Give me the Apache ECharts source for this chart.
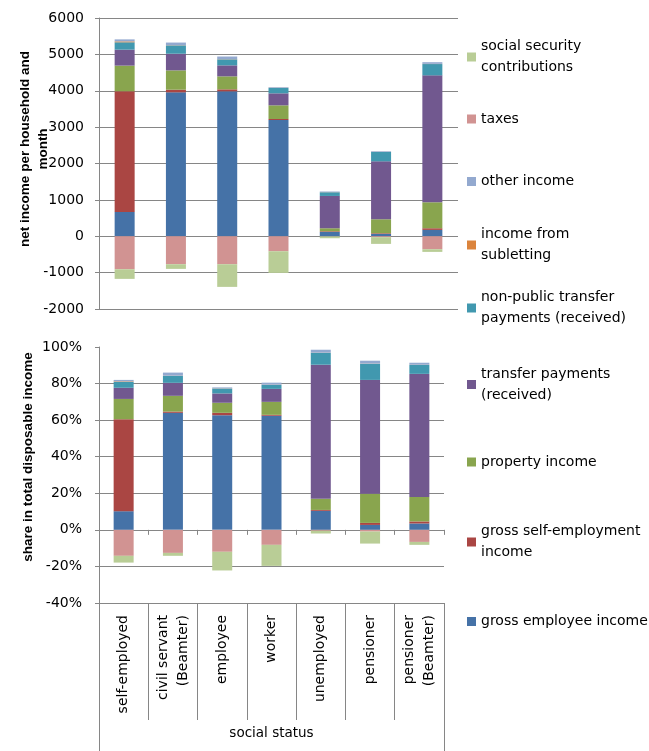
<!DOCTYPE html>
<html>
<head>
<meta charset="utf-8">
<script src="https://cdn.jsdelivr.net/npm/echarts@6/dist/echarts.min.js"></script>
<style>html,body{margin:0;padding:0;background:#fff;}#c{width:649px;height:751px;}</style>
</head>
<body>
<div id="c"></div>
<script>
// ---- data ----
const categories = ['self-employed', 'civil servant\n(Beamter)', 'employee', 'worker', 'unemployed', 'pensioner', 'pensioner\n(Beamter)'];
const seriesNames = ['gross employee income', 'gross self-employment income', 'property income', 'transfer payments (received)', 'non-public transfer payments (received)', 'income from subletting', 'other income', 'taxes', 'social security contributions'];

// net income per household and month
const absEmployee   = [670, 3956, 3984, 3196, 119, 64, 174];
const absSelfEmp    = [3316, 73, 55, 27, 18, 18, 46];
const absProperty   = [705, 531, 357, 376, 83, 385, 714];
const absTransfer   = [439, 458, 302, 330, 888, 1593, 3489];
const absNonPublic  = [202, 229, 165, 146, 101, 257, 311];
const absSubletting = [25, 5, 5, 5, 3, 3, 5];
const absOther      = [55, 73, 73, 18, 18, 18, 46];
const absTaxes      = [-907, -769, -769, -412, -5, -25, -357];
const absSocialSec  = [-265, -128, -623, -595, -50, -185, -73];

// share in total disposable income (%)
const shrEmployee   = [10.2, 64.0, 62.7, 62.4, 10.4, 2.7, 3.5];
const shrSelfEmp    = [50.3, 0.7, 1.3, 0.5, 0.5, 1.1, 1.1];
const shrProperty   = [11.1, 8.6, 5.5, 7.1, 6.1, 15.9, 13.4];
const shrTransfer   = [6.1, 7.1, 5.1, 7.1, 73.3, 62.3, 67.3];
const shrNonPublic  = [3.2, 3.8, 2.7, 2.2, 6.5, 8.8, 4.9];
const shrSubletting = [0.3, 0.1, 0.1, 0.1, 0.1, 0.1, 0.1];
const shrOther      = [0.8, 1.7, 0.5, 1.1, 1.6, 1.6, 1.1];
const shrTaxes      = [-14.2, -12.6, -12.0, -8.2, -0.5, -0.9, -6.6];
const shrSocialSec  = [-3.7, -1.6, -10.2, -11.5, -1.5, -6.6, -1.6];

const topTicks = [-2000, 6000, 1000];
const bottomTicks = [-40, 100, 20];
const xTitle = 'social status';

// ---- styling ----
const colors = ['#4572A7', '#AA4643', '#89A54E', '#71588F', '#4198AF', '#DB843D', '#93A9CF', '#D19392', '#B9CD96'];
const absData = [absEmployee, absSelfEmp, absProperty, absTransfer, absNonPublic, absSubletting, absOther, absTaxes, absSocialSec];
const shrData = [shrEmployee, shrSelfEmp, shrProperty, shrTransfer, shrNonPublic, shrSubletting, shrOther, shrTaxes, shrSocialSec];
const gridCol = '#868686';
const FONT = 'DejaVu Sans';

const series = [];
seriesNames.forEach((n, i) => {
  series.push({name: n, type: 'bar', stack: 'a', xAxisIndex: 0, yAxisIndex: 0, barWidth: 20,
    itemStyle: {color: colors[i]}, data: absData[i]});
  series.push({name: n, type: 'bar', stack: 'b', xAxisIndex: 1, yAxisIndex: 1, barWidth: 20,
    itemStyle: {color: colors[i]}, data: shrData[i]});
});

// legend layout (display order top to bottom)
const legendItems = [
  ['social security contributions', 'social security\ncontributions', 57, 2],
  ['taxes', 'taxes', 119, 1],
  ['other income', 'other income', 181.5, 1],
  ['income from subletting', 'income from\nsubletting', 245, 2],
  ['non-public transfer payments (received)', 'non-public transfer\npayments (received)', 308, 2],
  ['transfer payments (received)', 'transfer payments\n(received)', 384.5, 2],
  ['property income', 'property income', 462, 1],
  ['gross self-employment income', 'gross self-employment\nincome', 542, 2],
  ['gross employee income', 'gross employee income', 621.5, 1]
];
const LH = 21;
const legends = legendItems.map(([name, label, c, lines]) => ({
  data: [name], orient: 'vertical', left: 467,
  top: lines === 2 ? c - 1.5 * LH : c - 0.5 * LH,
  padding: 0, itemWidth: 9, itemHeight: 9, itemGap: 0, icon: 'rect',
  selectedMode: false,
  formatter: () => label,
  textStyle: {fontFamily: FONT, fontSize: 14, color: '#000', lineHeight: LH,
    padding: lines === 2 ? [LH, 0, 0, 0] : 0}
}));

const option = {
  animation: false,
  backgroundColor: '#fff',
  legend: legends,
  grid: [
    {left: 99, top: 18, width: 359, height: 291},
    {left: 99, top: 347, width: 345, height: 256}
  ],
  xAxis: [
    {type: 'category', gridIndex: 0, data: categories, show: false},
    {type: 'category', gridIndex: 1, data: categories, position: 'bottom',
      axisLine: {show: true, onZero: false, lineStyle: {color: gridCol}},
      axisTick: {show: true, interval: 0, length: 117, lineStyle: {color: gridCol}},
      axisLabel: {interval: 0, rotate: 90, margin: 12, fontFamily: FONT, fontSize: 14, color: '#000', lineHeight: 20}},
    {type: 'category', gridIndex: 1, data: categories, position: 'bottom',
      axisLine: {show: true, onZero: true, lineStyle: {color: gridCol}},
      axisTick: {show: true, interval: 0, length: 5, lineStyle: {color: gridCol}},
      axisLabel: {show: false}},
    {type: 'category', gridIndex: 1, data: [xTitle], position: 'bottom',
      axisLine: {show: false, onZero: false},
      axisTick: {show: true, interval: 0, length: 148, lineStyle: {color: gridCol}},
      axisLabel: {margin: 123, fontFamily: FONT, fontSize: 13.5, color: '#000'}}
  ],
  yAxis: [
    {type: 'value', gridIndex: 0, min: topTicks[0], max: topTicks[1], interval: topTicks[2],
      name: 'net income per household and\nmonth', nameLocation: 'middle', nameRotate: 90, nameGap: 47,
      nameMoveOverlap: false,
      nameTextStyle: {fontFamily: 'Liberation Sans', fontWeight: 'bold', fontSize: 13.5, color: '#000', lineHeight: 18, padding: [0, 0, 0, 29]},
      axisLine: {show: true, lineStyle: {color: gridCol}},
      axisTick: {show: true, length: 4, lineStyle: {color: gridCol}},
      axisLabel: {margin: 15, fontFamily: FONT, fontSize: 14, color: '#000', formatter: v => String(v)},
      splitLine: {show: true, lineStyle: {color: gridCol}}},
    {type: 'value', gridIndex: 1, min: bottomTicks[0], max: bottomTicks[1], interval: bottomTicks[2],
      name: 'share in total disposable income', nameLocation: 'middle', nameRotate: 90, nameGap: 64,
      nameMoveOverlap: false,
      nameTextStyle: {fontFamily: 'Liberation Sans', fontWeight: 'bold', fontSize: 13.5, color: '#000', padding: [0, 0, 0, 36]},
      axisLine: {show: true, lineStyle: {color: gridCol}},
      axisTick: {show: true, length: 4, lineStyle: {color: gridCol}},
      axisLabel: {margin: 17, fontFamily: FONT, fontSize: 14, color: '#000', formatter: '{value}%'},
      splitLine: {show: true, showMaxLine: false, lineStyle: {color: gridCol}}}
  ],
  series: series
};

const chart = echarts.init(document.getElementById('c'), null, {renderer: 'canvas'});
chart.setOption(option);
</script>
</body>
</html>
